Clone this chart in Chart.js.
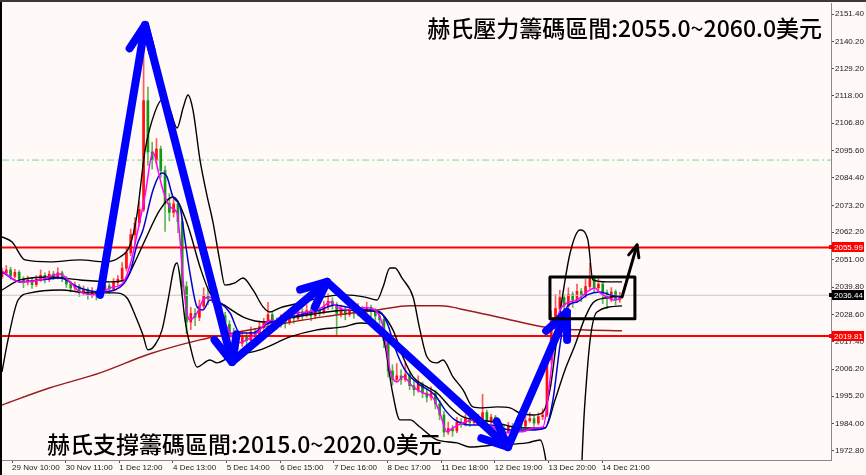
<!DOCTYPE html>
<html>
<head>
<meta charset="utf-8">
<script src="https://cdn.jsdelivr.net/npm/chart.js@4.4.1/dist/chart.umd.min.js"></script>
<style>
  html, body { margin: 0; padding: 0; background: #ffffff; }
  #wrap { width: 866px; height: 475px; }
</style>
</head>
<body>
<div id="wrap"><canvas id="chart" width="866" height="475"></canvas></div>
<script>
// XAUUSD, 2-hour candles (index = hours from 29 Nov 05:00)
const opens = [
  2044.0, 2045.5, 2046.8, 2044.2, 2045.8, 2043.1, 2041.9, 2042.6, 2040.8, 2043.0,
  2044.6, 2042.9, 2045.1, 2044.0, 2045.6, 2043.2, 2041.0, 2039.4, 2040.1, 2037.5,
  2038.8, 2036.4, 2037.9, 2036.2, 2038.7, 2040.3, 2039.0, 2041.6, 2043.0, 2047.5,
  2053.8, 2061.2, 2066.0, 2071.5, 2116.0, 2095.0, 2091.8, 2096.2, 2087.4, 2074.0,
  2070.3, 2073.8, 2066.5, 2040.0, 2025.5, 2029.0, 2027.4, 2032.0, 2036.5, 2035.0,
  2038.0, 2031.5, 2028.0, 2024.5, 2021.0, 2018.5, 2016.8, 2019.5, 2018.0, 2021.5,
  2020.4, 2023.6, 2025.0, 2028.5, 2026.0, 2024.5, 2026.8, 2025.2, 2028.0, 2027.0,
  2029.5, 2028.4, 2030.2, 2028.0, 2030.5, 2029.6, 2031.8, 2034.0, 2032.5, 2029.0,
  2030.8, 2028.6, 2030.0, 2029.2, 2031.0, 2030.0, 2031.5, 2029.8, 2028.0, 2026.5,
  2018.0, 2005.5, 2002.0, 2003.5, 2002.0, 2004.0, 1999.5, 1997.8, 2000.2, 1996.5,
  1994.8, 1996.4, 1992.0, 1987.5, 1980.5, 1982.0, 1981.0, 1984.6, 1983.8, 1986.0,
  1984.5, 1986.8, 1985.0, 1988.5, 1985.0, 1986.6, 1984.0, 1981.8, 1980.6, 1983.0,
  1981.5, 1984.8, 1983.0, 1985.2, 1986.0, 1984.2, 1986.8, 1987.5, 2010.0, 2026.0,
  2031.0, 2035.5, 2032.0, 2036.8, 2034.5, 2038.0, 2036.2, 2040.0, 2043.5, 2039.5,
  2041.0, 2037.5, 2035.0, 2037.8, 2034.8
];
const highs = [
  2047.5, 2048.6, 2047.9, 2047.0, 2046.5, 2044.0, 2044.3, 2043.5, 2044.5, 2046.8,
  2045.6, 2046.4, 2046.2, 2047.7, 2046.3, 2044.1, 2042.2, 2041.8, 2040.9, 2040.2,
  2039.5, 2039.6, 2038.7, 2040.4, 2042.0, 2041.2, 2043.3, 2044.5, 2049.8, 2056.0,
  2063.5, 2068.2, 2074.6, 2138.0, 2121.5, 2099.0, 2100.5, 2097.4, 2089.2, 2078.0,
  2076.5, 2075.0, 2068.0, 2042.0, 2031.5, 2031.0, 2034.5, 2039.5, 2040.2, 2041.0,
  2039.0, 2033.0, 2029.5, 2026.0, 2023.0, 2020.4, 2022.0, 2021.0, 2023.5, 2022.8,
  2026.0, 2027.0, 2033.5, 2029.8, 2027.2, 2028.5, 2028.0, 2030.5, 2029.6, 2033.5,
  2031.0, 2032.6, 2031.2, 2032.5, 2031.8, 2034.0, 2037.0, 2035.4, 2033.5, 2032.4,
  2031.6, 2032.0, 2031.0, 2033.0, 2032.0, 2033.6, 2032.4, 2031.0, 2029.4, 2027.5,
  2019.5, 2008.0, 2008.5, 2006.0, 2009.0, 2005.0, 2001.5, 2003.5, 2001.0, 1998.5,
  1999.0, 1997.5, 1993.5, 1989.0, 1984.6, 1983.2, 1986.5, 1986.0, 1987.6, 1987.0,
  1988.6, 1987.8, 1996.0, 1989.5, 1987.8, 1987.4, 1985.0, 1983.5, 1984.5, 1984.0,
  1986.5, 1985.6, 1987.0, 1988.5, 1987.2, 1988.4, 1990.0, 2012.5, 2030.0, 2036.8,
  2038.5, 2036.6, 2039.5, 2037.8, 2041.0, 2039.2, 2043.0, 2049.5, 2044.5, 2043.2,
  2042.0, 2038.6, 2039.6, 2038.6, 2037.6
];
const lows = [
  2043.2, 2044.8, 2043.0, 2043.5, 2041.8, 2039.5, 2040.6, 2039.2, 2040.0, 2042.1,
  2041.5, 2042.0, 2042.8, 2043.1, 2042.0, 2039.6, 2037.8, 2038.5, 2036.0, 2036.4,
  2034.8, 2035.5, 2034.5, 2035.6, 2037.8, 2037.2, 2038.2, 2040.4, 2042.2, 2046.3,
  2052.6, 2057.4, 2064.8, 2070.6, 2089.5, 2088.0, 2090.2, 2084.6, 2062.5, 2066.8,
  2068.4, 2062.0, 2036.5, 2020.8, 2022.4, 2024.0, 2026.0, 2030.8, 2032.6, 2033.5,
  2029.2, 2026.0, 2021.6, 2018.4, 2016.0, 2014.2, 2015.5, 2015.6, 2017.0, 2018.6,
  2019.5, 2022.0, 2024.0, 2024.4, 2022.6, 2023.4, 2023.0, 2024.4, 2025.0, 2026.2,
  2026.5, 2027.5, 2026.0, 2027.0, 2027.8, 2028.8, 2030.6, 2030.8, 2019.5, 2027.6,
  2026.4, 2027.8, 2027.0, 2028.0, 2028.2, 2029.0, 2027.6, 2026.0, 2024.6, 2015.0,
  2003.0, 1999.6, 2001.0, 2000.0, 2001.2, 1997.8, 1995.5, 1996.8, 1994.6, 1992.8,
  1993.6, 1990.0, 1985.5, 1978.6, 1979.5, 1978.8, 1980.2, 1982.4, 1983.0, 1982.8,
  1983.6, 1983.5, 1984.4, 1983.6, 1983.8, 1982.5, 1980.0, 1978.4, 1979.8, 1980.0,
  1980.8, 1981.6, 1982.2, 1984.4, 1982.8, 1983.5, 1985.6, 1986.8, 2008.5, 2024.5,
  2029.6, 2028.4, 2031.0, 2031.5, 2033.4, 2033.8, 2035.4, 2039.0, 2037.5, 2038.4,
  2033.0, 2031.0, 2033.8, 2032.6, 2033.5
];
const closes = [
  2045.5, 2046.8, 2044.2, 2045.8, 2043.1, 2041.9, 2042.6, 2040.8, 2043.0, 2044.6,
  2042.9, 2045.1, 2044.0, 2045.6, 2043.2, 2041.0, 2039.4, 2040.1, 2037.5, 2038.8,
  2036.4, 2037.9, 2036.2, 2038.7, 2040.3, 2039.0, 2041.6, 2043.0, 2047.5, 2053.8,
  2061.2, 2066.0, 2071.5, 2116.0, 2095.0, 2091.8, 2096.2, 2087.4, 2074.0, 2070.3,
  2073.8, 2066.5, 2040.0, 2025.5, 2029.0, 2027.4, 2032.0, 2036.5, 2035.0, 2038.0,
  2031.5, 2028.0, 2024.5, 2021.0, 2018.5, 2016.8, 2019.5, 2018.0, 2021.5, 2020.4,
  2023.6, 2025.0, 2028.5, 2026.0, 2024.5, 2026.8, 2025.2, 2028.0, 2027.0, 2029.5,
  2028.4, 2030.2, 2028.0, 2030.5, 2029.6, 2031.8, 2034.0, 2032.5, 2029.0, 2030.8,
  2028.6, 2030.0, 2029.2, 2031.0, 2030.0, 2031.5, 2029.8, 2028.0, 2026.5, 2018.0,
  2005.5, 2002.0, 2003.5, 2002.0, 2004.0, 1999.5, 1997.8, 2000.2, 1996.5, 1994.8,
  1996.4, 1992.0, 1987.5, 1980.5, 1982.0, 1981.0, 1984.6, 1983.8, 1986.0, 1984.5,
  1986.8, 1985.0, 1988.5, 1985.0, 1986.6, 1984.0, 1981.8, 1980.6, 1983.0, 1981.5,
  1984.8, 1983.0, 1985.2, 1986.0, 1984.2, 1986.8, 1987.5, 2010.0, 2026.0, 2031.0,
  2035.5, 2032.0, 2036.8, 2034.5, 2038.0, 2036.2, 2040.0, 2043.5, 2039.5, 2041.0,
  2037.5, 2035.0, 2037.8, 2034.8, 2036.44
];

// indicator lines: [hour index, price]
const fastMA = [
  [0, 2046.4], [8.4, 2041.9], [17.7, 2042.7], [27, 2045.1], [31.7, 2041.9], [36.4, 2037.8],
  [44.3, 2036.6], [50.3, 2039.4], [56.4, 2041.5], [59.7, 2048.8], [62.9, 2061.1], [66.7, 2077.4],
  [70.4, 2095.0], [72.7, 2087.6], [75, 2079.5], [78.3, 2072.5], [81.6, 2070.1], [83, 2059.0],
  [84.4, 2042.7], [86.2, 2029.2], [87.6, 2026.3], [90.9, 2029.2], [93.7, 2034.5], [96.9, 2035.7],
  [100.2, 2030.4], [104.9, 2023.5], [109.5, 2016.9], [114.2, 2018.2], [118.9, 2021.0], [123.5, 2025.5],
  [126.3, 2026.3], [129.6, 2025.1], [132.8, 2027.6], [137.5, 2029.2], [142.2, 2029.6], [146.8, 2030.4],
  [149.6, 2031.7], [152.9, 2033.7], [156.1, 2031.7], [160.8, 2030.4], [165.5, 2031.3], [170.1, 2031.3],
  [174.8, 2029.6], [177.6, 2023.5], [179.4, 2014.1], [180.8, 2005.9], [184.1, 2001.0], [186.9, 2003.1],
  [191.6, 1999.0], [196.2, 1996.5], [200.9, 1994.5], [204.1, 1988.3], [207.4, 1980.6], [210.2, 1982.2],
  [214.9, 1984.3], [219.5, 1985.5], [224.2, 1984.3], [228.8, 1982.6], [233.5, 1980.2], [238.2, 1980.6],
  [242.8, 1980.6], [247.5, 1982.2], [252.2, 1982.6], [255.4, 2001.8], [258.7, 2026.3], [260.1, 2030.4],
  [263.4, 2033.3], [268, 2034.5], [272.7, 2037.8], [276.4, 2039.4], [278.7, 2037.4], [282, 2035.7],
  [284.8, 2034.5], [288, 2034.9]
];
const slowMA = [
  [0, 2046.0], [8.4, 2041.9], [17.7, 2042.7], [27, 2043.5], [36.4, 2039.4], [45.7, 2037.8],
  [55, 2039.8], [59.7, 2046.0], [62.9, 2057.0], [65.7, 2063.1], [70.4, 2079.5], [74.6, 2086.4],
  [76.9, 2084.8], [79.7, 2076.6], [83, 2072.5], [85.3, 2059.0], [87.6, 2045.6], [90.9, 2031.7],
  [93.7, 2030.4], [96.9, 2034.5], [101.6, 2033.3], [106.3, 2029.2], [110.9, 2021.0], [117, 2021.0],
  [122.6, 2024.3], [129.6, 2026.3], [138.9, 2028.4], [148.2, 2030.4], [155.2, 2032.5], [162.2, 2031.3],
  [171.5, 2030.4], [176.2, 2029.6], [179.9, 2024.3], [183.2, 2014.9], [187.8, 2005.9], [194.8, 1999.8],
  [201.8, 1995.7], [206.5, 1989.6], [211.1, 1985.5], [218.1, 1983.4], [227.4, 1983.4], [236.8, 1981.4],
  [246.1, 1981.4], [253.1, 1982.2], [256.8, 1993.7], [260.1, 2016.1], [263.4, 2031.7], [268, 2033.7],
  [272.7, 2036.6], [278.7, 2037.8], [283.4, 2036.6], [288, 2035.7]
];
const longMA = [
  [0, 1991.6], [22.4, 1998.6], [45.7, 2004.7], [69, 2012.5], [92.3, 2018.2], [120.3, 2023.1],
  [149.6, 2027.6], [174.8, 2030.4], [190.2, 2032.1], [204.1, 2032.1], [218.1, 2030.0], [241.4, 2025.5],
  [255.4, 2023.1], [269.4, 2022.3], [289, 2021.9]
];
const bandUpper = [
  [0, 2060.3], [4.7, 2058.2], [10.7, 2050.9], [22.4, 2050.1], [36.4, 2050.9], [48, 2050.1],
  [55, 2052.1], [59.7, 2057.0], [62.9, 2069.3], [66.7, 2095.8], [71.3, 2111.4], [74.6, 2116.3],
  [78.3, 2112.2], [81.6, 2104.8], [84.4, 2113.0], [86.7, 2118.3], [89, 2112.2], [92.3, 2091.7],
  [95.5, 2077.4], [98.3, 2066.4], [101.6, 2050.1], [103.9, 2040.6], [108.6, 2041.5], [112.3, 2043.5],
  [117, 2038.6], [121.7, 2031.7], [124.9, 2029.6], [129.6, 2031.3], [138.9, 2033.3], [149.6, 2035.7],
  [159.9, 2036.6], [169.2, 2035.7], [174.8, 2034.5], [177.6, 2039.8], [180.8, 2047.6], [183.2, 2047.6],
  [186.4, 2043.5], [191.6, 2035.7], [194.8, 2022.3], [198.1, 2011.2], [202.8, 2008.8], [205.5, 2010.0],
  [210.2, 2003.1], [214.9, 1997.8], [219.5, 1990.8], [224.2, 1990.4], [230.7, 1990.8], [236.8, 1990.4],
  [241.4, 1988.3], [247.5, 1987.5], [251.7, 1988.3], [255.4, 1997.8], [260.1, 2029.2], [264.8, 2053.7],
  [269.4, 2063.1], [273.1, 2059.0], [275.4, 2042.7], [282, 2041.9], [289, 2041.9]
];
const bandMiddle = [
  [0, 2038.6], [8.4, 2042.7], [22.4, 2043.9], [36.4, 2042.7], [50.3, 2041.9], [57.3, 2042.7],
  [62, 2050.1], [66.7, 2059.0], [73.6, 2071.3], [79.7, 2076.6], [86.2, 2066.0], [92.3, 2048.0],
  [96.9, 2037.4], [104.9, 2031.7], [113.3, 2027.2], [122.6, 2025.5], [134.2, 2027.2], [148.2, 2029.2],
  [162.2, 2030.4], [175.3, 2029.6], [182.2, 2022.3], [186.9, 2011.2], [191.6, 2003.1], [198.1, 1999.0],
  [202.8, 1996.5], [208.8, 1990.8], [214.9, 1986.7], [222.8, 1985.5], [230.7, 1984.3], [238.2, 1982.6],
  [246.1, 1982.2], [253.1, 1982.2], [257.8, 1993.7], [262.4, 2005.9], [267.1, 2016.1], [271.7, 2027.2],
  [275.4, 2033.3], [281, 2035.3], [289, 2036.1]
];
const bandLower = [
  [0, 2005.1], [2.8, 2018.2], [7.5, 2034.5], [13.1, 2037.4], [27, 2038.6], [41, 2037.4],
  [52.7, 2037.4], [58.3, 2035.3], [62, 2028.4], [65.7, 2020.2], [68, 2014.1], [71.3, 2016.1],
  [74.6, 2022.3], [77.4, 2034.5], [80.2, 2047.6], [81.6, 2049.6], [83.4, 2040.6], [85.3, 2026.3],
  [87.6, 2016.1], [90.9, 2007.1], [96.9, 2010.0], [100.2, 2008.8], [106.3, 2011.2], [120.3, 2014.1],
  [134.2, 2019.4], [146.8, 2022.3], [159, 2023.5], [166.9, 2025.1], [175.3, 2024.3], [178.5, 2016.1],
  [181.8, 1997.8], [185.5, 1985.5], [190.2, 1985.5], [194.8, 1982.6], [202.8, 1977.3], [212.1, 1976.1],
  [218.1, 1974.4], [230.7, 1975.3], [244.7, 1976.1], [250.8, 1977.3], [253.6, 1968.3], [256.4, 1944.6],
  [268.5, 1944.6], [271.5, 1990.0], [274.1, 2018.0], [277.3, 2029.6], [289, 2032.1]
];

// horizontal levels
const resistanceLevel = 2055.99;
const supportLevel = 2019.81;
const lastPrice = 2036.44;
const fiboLevel = 2091.7;

// axes
const priceTicks = [2151.40, 2140.20, 2129.20, 2118.00, 2106.80, 2095.60, 2084.40, 2073.20, 2062.20,
  2051.00, 2039.80, 2028.60, 2017.40, 2006.20, 1995.20, 1984.00, 1972.80];
const timeTicks = [4.7, 29.7, 54.7, 79.7, 104.7, 129.7, 154.7, 179.7, 204.7, 229.7, 254.7, 279.7];
const timeLabels = ['29 Nov 10:00', '30 Nov 11:00', '1 Dec 12:00', '4 Dec 13:00', '5 Dec 14:00', '6 Dec 15:00',
  '7 Dec 16:00', '8 Dec 17:00', '11 Dec 18:00', '12 Dec 19:00', '13 Dec 20:00', '14 Dec 21:00'];

// hand-drawn annotations, in [hour index, price]
const trendPath = [[45.7, 2036.6], [66.7, 2146.9], [107.2, 2009.2], [151.5, 2041.9], [235.8, 1974.4], [263.3, 2029.6]];
const nextMove = [[289, 2035.7], [296, 2057.0]];
const boxCorners = [[255.4, 2043.9], [295, 2026.8]];
const topNote = '赫氏壓力籌碼區間:2055.0~2060.0美元';
const bottomNote = '赫氏支撐籌碼區間:2015.0~2020.0美元';

const X_MIN = 0, X_MAX = 386.4;
const UP = '#ff1010', DOWN = '#119a11';
const AXIS_FONT = { family: '"Liberation Sans", Arial, sans-serif', size: 8 };
const NOTE_FONT = '500 23px "Noto Sans CJK TC", sans-serif';

const candleColors = opens.map((o, i) => closes[i] >= o ? UP : DOWN);
const wickData = opens.map((o, i) => ({ x: i * 2, y: [lows[i], highs[i]] }));
const bodyData = opens.map((o, i) => ({ x: i * 2, y: [o, closes[i]] }));
const pts = arr => arr.map(p => ({ x: p[0], y: p[1] }));
const level = v => [{ x: X_MIN, y: v }, { x: X_MAX, y: v }];

function lineSet(data, color, order, width) {
    return {
        type: 'line', data: pts(data), borderColor: color, borderWidth: width || 1.4,
        pointRadius: 0, cubicInterpolationMode: 'monotone', order: order
    };
}
function levelSet(v, color, width, dash) {
    return {
        type: 'line', data: level(v), borderColor: color, borderWidth: width,
        borderDash: dash || [], pointRadius: 0, order: 8
    };
}

function drawArrow(ctx, x1, y1, x2, y2, head) {
    ctx.beginPath();
    ctx.moveTo(x1, y1);
    ctx.lineTo(x2, y2);
    ctx.stroke();
    const a = Math.atan2(y1 - y2, x1 - x2);
    ctx.beginPath();
    ctx.moveTo(x2 + head * Math.cos(a + 0.42), y2 + head * Math.sin(a + 0.42));
    ctx.lineTo(x2, y2);
    ctx.lineTo(x2 + head * Math.cos(a - 0.42), y2 + head * Math.sin(a - 0.42));
    ctx.stroke();
}

function priceTag(ctx, chart, v, bg) {
    const y = Math.round(chart.scales.y.getPixelForValue(v));
    const x = chart.chartArea.right;
    ctx.fillStyle = bg;
    ctx.fillRect(x - 2, y - 2, 4, 4);
    ctx.fillRect(x + 1, y - 5, 32, 10);
    ctx.fillStyle = '#ffffff';
    ctx.font = '8px "Liberation Sans", Arial, sans-serif';
    ctx.textAlign = 'left';
    ctx.textBaseline = 'middle';
    ctx.fillText(v.toFixed(2), x + 3, y + 0.5);
}

const overlay = {
    id: 'overlay',
    beforeDraw(chart) {
        const { ctx } = chart;
        ctx.save();
        ctx.fillStyle = '#fffaf8';
        ctx.fillRect(0, 0, chart.width, chart.height);
        ctx.restore();
    },
    afterDatasetsDraw(chart) {
        const { ctx, scales: { x, y } } = chart;
        const px = p => [x.getPixelForValue(p[0]), y.getPixelForValue(p[1])];
        ctx.save();
        ctx.lineCap = 'round';
        ctx.lineJoin = 'round';

        // blue swing arrows
        ctx.strokeStyle = '#0000ff';
        ctx.lineWidth = 8;
        for (let i = 1; i < trendPath.length; i++) {
            const [x1, y1] = px(trendPath[i - 1]);
            const [x2, y2] = px(trendPath[i]);
            drawArrow(ctx, x1, y1, x2, y2, 28);
        }

        // consolidation box and projected move
        ctx.strokeStyle = '#000000';
        ctx.lineWidth = 3;
        const [bx1, by1] = px(boxCorners[0]);
        const [bx2, by2] = px(boxCorners[1]);
        ctx.strokeRect(bx1, by1, bx2 - bx1, by2 - by1);
        const [nx1, ny1] = px(nextMove[0]);
        const [nx2, ny2] = px(nextMove[1]);
        drawArrow(ctx, nx1, ny1, nx2, ny2, 13);

        // notes
        ctx.fillStyle = '#000000';
        ctx.font = NOTE_FONT;
        ctx.textBaseline = 'middle';
        ctx.textAlign = 'right';
        ctx.fillText(topNote, 822, 28);
        ctx.textAlign = 'left';
        ctx.fillText(bottomNote, 47, 444);
        ctx.restore();
    },
    afterDraw(chart) {
        const { ctx } = chart;
        ctx.save();
        priceTag(ctx, chart, resistanceLevel, '#ff0000');
        priceTag(ctx, chart, lastPrice, '#000000');
        priceTag(ctx, chart, supportLevel, '#ff0000');
        ctx.fillStyle = '#000000';
        ctx.fillRect(0, 0, 2, chart.height);
        ctx.fillStyle = '#3a3a3a';
        ctx.fillRect(0, 0, chart.width, 2);
        ctx.restore();
    }
};

new Chart(document.getElementById('chart'), {
    type: 'bar',
    data: {
        datasets: [
            lineSet(fastMA, '#ff00ff', 1, 1.5),
            lineSet(slowMA, '#0000d0', 2, 1.5),
            lineSet(bandUpper, '#000000', 3, 1.4),
            lineSet(bandMiddle, '#000000', 3, 1.4),
            lineSet(bandLower, '#000000', 3, 1.4),
            lineSet(longMA, '#9b1c1c', 4, 1.5),
            levelSet(resistanceLevel, '#ff0000', 2),
            levelSet(supportLevel, '#ff0000', 2),
            levelSet(lastPrice, '#c3c6d0', 1),
            levelSet(fiboLevel, '#7ed67e', 1, [7, 3, 2, 3]),
            {
                data: bodyData, backgroundColor: candleColors, barThickness: 2,
                grouped: false, minBarLength: 1, order: 9
            },
            {
                data: wickData, backgroundColor: candleColors.map(c => c + 'b0'), barThickness: 1,
                grouped: false, order: 10
            }
        ]
    },
    options: {
        responsive: false,
        animation: false,
        devicePixelRatio: 1,
        events: [],
        layout: { padding: { left: 2, top: 3, right: 0, bottom: 0 } },
        plugins: { legend: { display: false }, tooltip: { enabled: false } },
        scales: {
            x: {
                type: 'linear', min: X_MIN, max: X_MAX, offset: false,
                afterBuildTicks: s => { s.ticks = timeTicks.map(v => ({ value: v })); },
                afterFit: s => { s.height = 15; s.paddingLeft = 0; s.paddingRight = 0; },
                grid: { drawOnChartArea: false, offset: false, tickLength: 3, color: '#505050' },
                border: { display: true, color: '#8a8a8a', width: 1 },
                ticks: {
                    align: 'start', autoSkip: false, maxRotation: 0, padding: 0,
                    color: '#202020', font: AXIS_FONT,
                    callback: (v, i) => timeLabels[i]
                }
            },
            y: {
                position: 'right', min: 1969.1, max: 2155.9,
                afterBuildTicks: s => { s.ticks = priceTicks.map(v => ({ value: v })); },
                afterFit: s => { s.width = 35; s.paddingTop = 0; s.paddingBottom = 0; },
                grid: { drawOnChartArea: false, tickLength: 3, color: '#505050' },
                border: { display: true, color: '#8a8a8a', width: 1 },
                ticks: {
                    autoSkip: false, padding: 1, color: '#202020', font: AXIS_FONT,
                    callback: v => v.toFixed(2)
                }
            }
        }
    },
    plugins: [overlay]
});
</script>
</body>
</html>
